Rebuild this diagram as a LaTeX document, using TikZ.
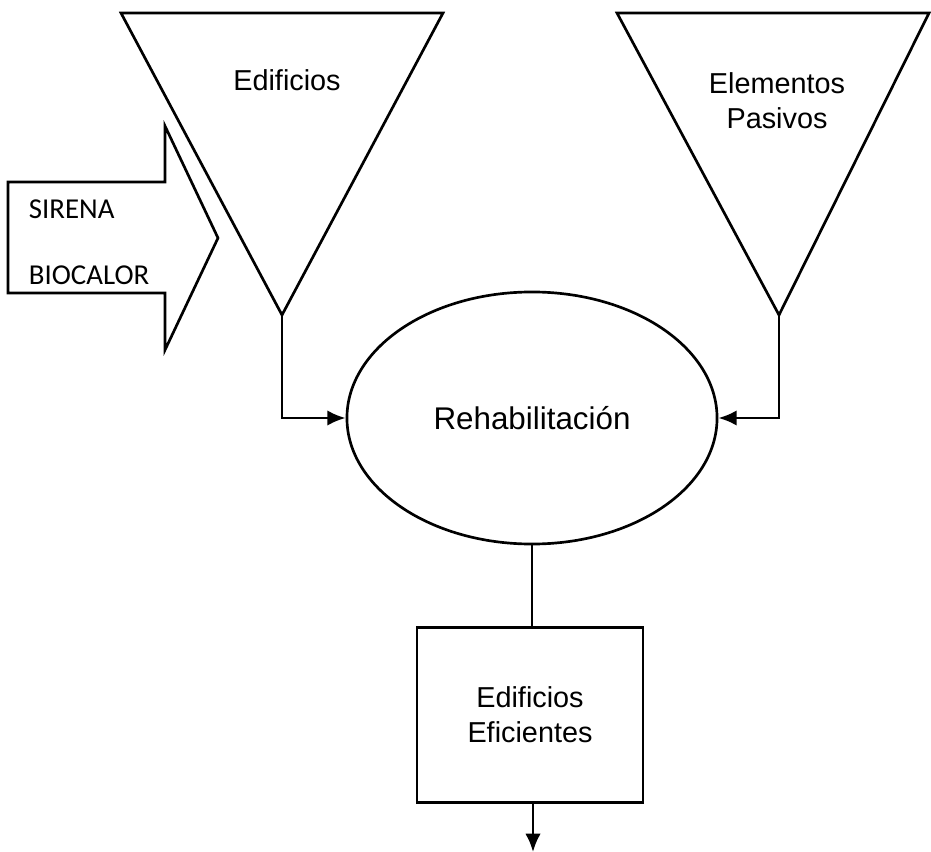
\documentclass[tikz,border=0pt]{standalone}
\usepackage{fontspec}
\setmainfont{Liberation Sans}
\newfontfamily\calibri{Carlito}
\usetikzlibrary{arrows.meta,shapes.geometric}

\begin{document}
\begin{tikzpicture}[x=0.025cm,y=-0.025cm]
      \tikzset { outline/.style = { draw,line width=1.9pt,line join=miter } }
      \tikzset { edge/.style = { -{Latex[length=13pt,width=11pt]},line width=1.9pt } }
      \tikzset { txt/.style = { font=\fontsize{20.5}{25}\selectfont,align=center } }

      \useasboundingbox (0,0) rectangle (931,852);

      % funnels
      \coordinate (fa) at (282,315);
      \coordinate (fb) at (779,315);
      \draw[outline] (121,13) -- (443,13) -- (fa) -- cycle;
      \draw[outline] (617,13) -- (929,13) -- (fb) -- cycle;
      \node[txt] (edif) at (287,80) {Edificios};
      \node[txt] (elem) at (777,101) {Elementos\\Pasivos};

      % input arrow
      \draw[outline] (8,182) -- (165,182) -- (165,126) -- (218,238)
            -- (165,350) -- (165,293) -- (8,293) -- cycle;
      \node[txt,font=\calibri\fontsize{20.5}{25}\selectfont,anchor=west] (sir) at (24,209) {SIRENA};
      \node[txt,font=\calibri\fontsize{20.5}{25}\selectfont,anchor=west] (bio) at (24,275) {BIOCALOR};

      \node[outline,ellipse,txt,font=\fontsize{22.3}{27}\selectfont,minimum width=9.25cm,minimum height=6.3cm] (reh) at (532,418) {Rehabilitación};
      \node[outline,txt,minimum width=5.65cm,minimum height=4.375cm] (eff) at (530,715) {Edificios\\Eficientes};
      \coordinate (out) at (533,852);

      \draw[edge] (fa) |- (reh.west);
      \draw[edge] (fb) |- (reh.east);
      \draw[line width=1.9pt] (reh.south) -- (reh.south |- eff.north);
      \draw[edge] (eff.south -| out) -- (out);

    \end{tikzpicture}
\end{document}
